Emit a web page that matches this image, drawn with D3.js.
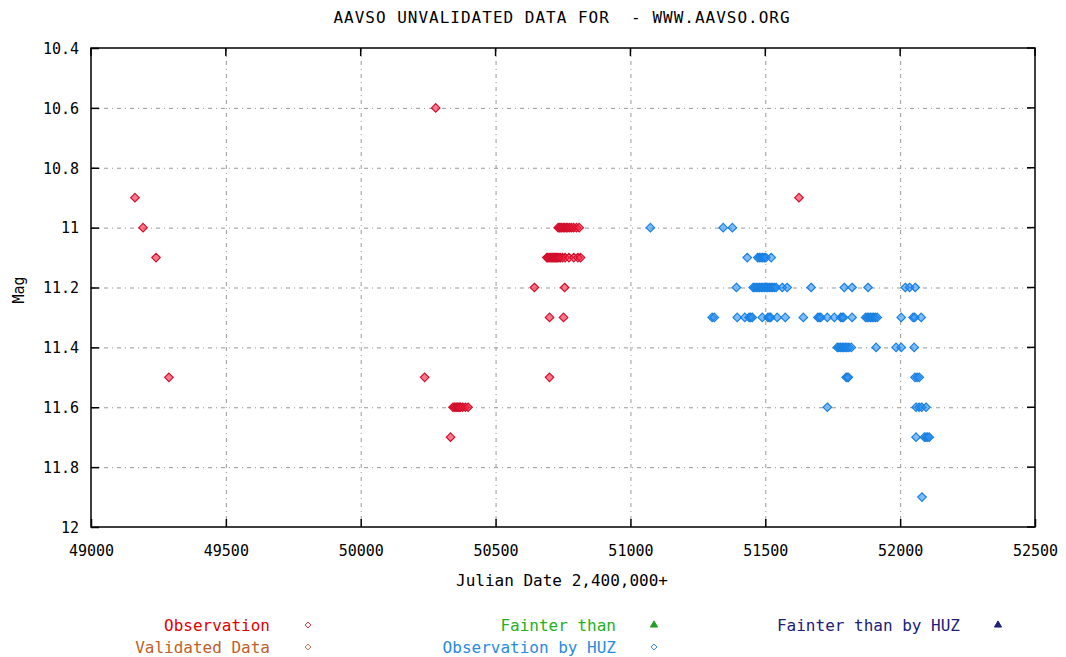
<!DOCTYPE html>
<html>
<head>
<meta charset="utf-8">
<script src="https://cdn.jsdelivr.net/npm/d3@7"></script>
<style>
  body { margin: 0; background: #fff; }
  text { font-family: "DejaVu Sans Mono", monospace; white-space: pre; }
</style>
</head>
<body>
<div id="chart"></div>
<script>
const observation = [
  [49163, 10.9], [49193, 11.0], [49241, 11.1], [49289, 11.5],
  [50278, 10.6], [50237, 11.5], [50333, 11.7],
  [50342, 11.6], [50348, 11.6], [50353, 11.6], [50357, 11.6], [50361, 11.6],
  [50366, 11.6], [50370, 11.6], [50378, 11.6], [50388, 11.6], [50398, 11.6],
  [50732, 11.0], [50737, 11.0], [50742, 11.0], [50746, 11.0], [50752, 11.0],
  [50757, 11.0], [50763, 11.0], [50768, 11.0], [50775, 11.0], [50782, 11.0],
  [50790, 11.0], [50800, 11.0], [50810, 11.0],
  [50690, 11.1], [50694, 11.1], [50698, 11.1], [50702, 11.1], [50706, 11.1],
  [50710, 11.1], [50714, 11.1], [50718, 11.1], [50722, 11.1], [50726, 11.1],
  [50730, 11.1], [50735, 11.1], [50740, 11.1], [50748, 11.1], [50758, 11.1],
  [50772, 11.1], [50790, 11.1], [50805, 11.1], [50815, 11.1],
  [50644, 11.2], [50756, 11.2],
  [50700, 11.3], [50752, 11.3],
  [50700, 11.5],
  [51625, 10.9]
];
const validated = [];
const fainter = [];
const observationHUZ = [
  [51074, 11.0], [51344, 11.0], [51378, 11.0],
  [51433, 11.1], [51472, 11.1], [51478, 11.1], [51484, 11.1], [51490, 11.1],
  [51496, 11.1], [51502, 11.1], [51522, 11.1],
  [51393, 11.2], [51455, 11.2], [51461, 11.2], [51467, 11.2], [51473, 11.2],
  [51479, 11.2], [51485, 11.2], [51491, 11.2], [51497, 11.2], [51503, 11.2],
  [51509, 11.2], [51515, 11.2], [51521, 11.2], [51527, 11.2], [51533, 11.2],
  [51540, 11.2], [51563, 11.2], [51581, 11.2], [51670, 11.2], [51793, 11.2],
  [51822, 11.2], [51881, 11.2], [52019, 11.2], [52035, 11.2], [52056, 11.2],
  [51303, 11.3], [51311, 11.3], [51396, 11.3], [51424, 11.3], [51440, 11.3],
  [51446, 11.3], [51452, 11.3], [51489, 11.3], [51510, 11.3], [51515, 11.3],
  [51520, 11.3], [51544, 11.3], [51574, 11.3], [51641, 11.3], [51695, 11.3],
  [51700, 11.3], [51706, 11.3], [51730, 11.3], [51756, 11.3], [51780, 11.3],
  [51785, 11.3], [51790, 11.3], [51822, 11.3], [51872, 11.3], [51878, 11.3],
  [51884, 11.3], [51890, 11.3], [51896, 11.3], [51902, 11.3], [51908, 11.3],
  [51915, 11.3], [52004, 11.3], [52048, 11.3], [52054, 11.3], [52078, 11.3],
  [51767, 11.4], [51773, 11.4], [51779, 11.4], [51785, 11.4], [51791, 11.4],
  [51797, 11.4], [51803, 11.4], [51810, 11.4], [51819, 11.4], [51911, 11.4],
  [51985, 11.4], [52004, 11.4], [52052, 11.4],
  [51800, 11.5], [51804, 11.5], [51808, 11.5], [52055, 11.5], [52063, 11.5], [52071, 11.5],
  [51730, 11.6], [52059, 11.6], [52070, 11.6], [52080, 11.6], [52096, 11.6],
  [52059, 11.7], [52090, 11.7], [52096, 11.7], [52102, 11.7], [52108, 11.7],
  [52081, 11.9]
];
const fainterHUZ = [];

const xTicks = [49000, 49500, 50000, 50500, 51000, 51500, 52000, 52500];
const yTicks = [10.4, 10.6, 10.8, 11, 11.2, 11.4, 11.6, 11.8, 12];

const width = 1066, height = 657;
const margin = ({top: 48, right: 31, bottom: 130, left: 91});

const x = d3.scaleLinear()
  .domain([49000, 52500])
  .range([margin.left, width - margin.right]);
const y = d3.scaleLinear()
  .domain([10.4, 12])
  .range([margin.top, height - margin.bottom]);

const svg = d3.select("#chart")
  .append("svg")
  .attr("width", width)
  .attr("height", height);

// grid
const grid = svg.append("g")
  .attr("stroke", "#999")
  .attr("stroke-width", 1)
  .attr("stroke-dasharray", "4,4,1,4");
grid.selectAll("line.gx")
  .data(xTicks.slice(1, -1))
  .join("line")
  .attr("x1", d => x(d) + 0.5).attr("x2", d => x(d) + 0.5)
  .attr("y1", margin.top).attr("y2", height - margin.bottom);
grid.selectAll("line.gy")
  .data(yTicks.slice(1, -1))
  .join("line")
  .attr("y1", d => y(d) + 0.5).attr("y2", d => y(d) + 0.5)
  .attr("x1", margin.left).attr("x2", width - margin.right);

// axes, ticks pointing inwards like gnuplot
const xAxis = g => g
  .attr("transform", `translate(0,${height - margin.bottom})`)
  .call(d3.axisBottom(x).tickValues(xTicks).tickFormat(d3.format("d")).tickSizeInner(-8).tickSizeOuter(0).tickPadding(18))
  .call(g => g.select(".domain").remove());
const yAxis = g => g
  .attr("transform", `translate(${margin.left},0)`)
  .call(d3.axisLeft(y).tickValues(yTicks).tickFormat(d => d3.format("")(d)).tickSizeInner(-8).tickSizeOuter(0).tickPadding(12))
  .call(g => g.select(".domain").remove());

svg.append("g").call(xAxis)
  .call(g => g.selectAll("text").attr("font-size", 15).attr("fill", "#000"))
  .call(g => g.selectAll("line").attr("stroke", "#000").attr("stroke-width", 1.5));
svg.append("g").call(yAxis)
  .call(g => g.selectAll("text").attr("font-size", 15).attr("fill", "#000").attr("dy", "0.35em"))
  .call(g => g.selectAll("line").attr("stroke", "#000").attr("stroke-width", 1.5));

// mirrored ticks on top and right
svg.append("g").selectAll("line")
  .data(xTicks)
  .join("line")
  .attr("x1", d => x(d)).attr("x2", d => x(d))
  .attr("y1", margin.top).attr("y2", margin.top + 8)
  .attr("stroke", "#000").attr("stroke-width", 1.5);
svg.append("g").selectAll("line")
  .data(yTicks)
  .join("line")
  .attr("y1", d => y(d)).attr("y2", d => y(d))
  .attr("x1", width - margin.right).attr("x2", width - margin.right - 8)
  .attr("stroke", "#000").attr("stroke-width", 1.5);

svg.append("rect")
  .attr("x", margin.left).attr("y", margin.top)
  .attr("width", width - margin.left - margin.right)
  .attr("height", height - margin.top - margin.bottom)
  .attr("fill", "none").attr("stroke", "#000").attr("stroke-width", 1.5);

const diamond = d3.symbol().type(d3.symbolDiamond2).size(46);

function plotSeries(data, stroke, fill) {
  svg.append("g")
    .selectAll("path")
    .data(data)
    .join("path")
    .attr("transform", d => `translate(${x(d[0])},${y(d[1])})`)
    .attr("d", diamond)
    .attr("fill", fill)
    .attr("fill-opacity", 0.6)
    .attr("stroke", stroke)
    .attr("stroke-width", 1.2);
}
plotSeries(observation, "#d0102c", "#ff2040");
plotSeries(observationHUZ, "#1a80e0", "#2a90f8");

// titles
svg.append("text")
  .attr("x", 562).attr("y", 23)
  .attr("text-anchor", "middle")
  .attr("font-size", 16)
  .attr("letter-spacing", 1)
  .text("AAVSO UNVALIDATED DATA FOR  - WWW.AAVSO.ORG");

svg.append("text")
  .attr("x", 562).attr("y", 586)
  .attr("text-anchor", "middle")
  .attr("font-size", 16)
  .text("Julian Date 2,400,000+");

svg.append("text")
  .attr("transform", "translate(24,290) rotate(-90)")
  .attr("text-anchor", "middle")
  .attr("font-size", 15)
  .text("Mag");

// legend
const legend = [
  {label: "Observation", color: "#e00000", mark: "#d03040", sym: "diamond", x: 270, y: 631},
  {label: "Validated Data", color: "#c0602a", mark: "#c07040", sym: "diamond", x: 270, y: 653},
  {label: "Fainter than", color: "#22b022", mark: "#22a022", sym: "triangle", x: 616, y: 631},
  {label: "Observation by HUZ", color: "#2a8ae0", mark: "#2a8ae0", sym: "diamond", x: 616, y: 653},
  {label: "Fainter than by HUZ", color: "#20207a", mark: "#20207a", sym: "triangle", x: 960, y: 631}
];
const lg = svg.append("g").selectAll("g")
  .data(legend)
  .join("g");
lg.append("text")
  .attr("x", d => d.x).attr("y", d => d.y)
  .attr("text-anchor", "end")
  .attr("font-size", 16)
  .attr("fill", d => d.color)
  .text(d => d.label);
lg.append("path")
  .attr("transform", d => `translate(${d.x + 38},${d.y - 6})`)
  .attr("d", d => d.sym === "triangle"
    ? d3.symbol().type(d3.symbolTriangle).size(22)()
    : d3.symbol().type(d3.symbolDiamond2).size(22)())
  .attr("fill", d => d.sym === "triangle" ? d.mark : "none")
  .attr("stroke", d => d.mark)
  .attr("stroke-width", 1);
</script>
</body>
</html>
